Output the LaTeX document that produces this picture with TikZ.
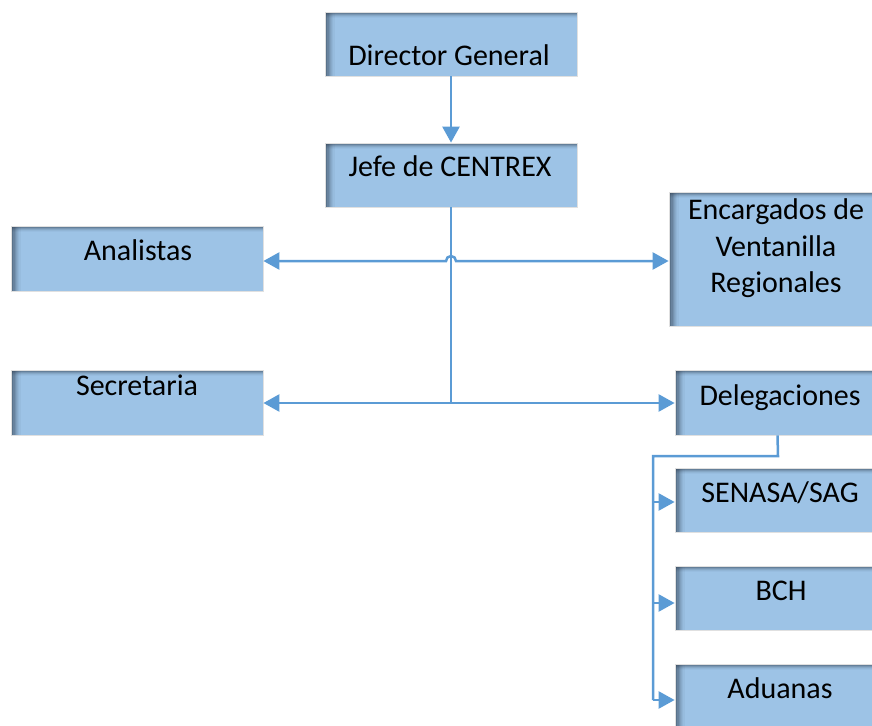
\documentclass[tikz,border=0pt]{standalone}
\usepackage{fontspec}
\setmainfont{Carlito}
\usetikzlibrary{arrows.meta}
\definecolor{boxblue}{RGB}{157,195,230}
\definecolor{linec}{RGB}{91,155,213}
\definecolor{shadowc}{RGB}{45,60,78}
\tikzset{
  mytip/.tip={Triangle[length=16pt,width=17pt]},
  box/.style={rectangle, fill=boxblue, draw=black!12, line width=0.8pt, inner sep=0pt,
    path picture={
      \foreach \i/\o in {0/0.75,1/0.6,2/0.47,3/0.36,4/0.26,5/0.18,6/0.11,7/0.05} {
        \fill[shadowc, opacity=\o]
          ([xshift=\i*1.2pt]path picture bounding box.north west) rectangle
          ([xshift=\i*1.2pt+1.2pt]path picture bounding box.south west);
      }
      \foreach \i/\o in {0/0.7,1/0.5,2/0.33,3/0.2,4/0.1,5/0.04} {
        \fill[shadowc, opacity=\o]
          ([yshift=-\i*1pt]path picture bounding box.north west) rectangle
          ([yshift=-\i*1pt-1pt]path picture bounding box.north east);
      }
    }},
  txt/.style={inner sep=0pt, anchor=base, font=\fontsize{30}{36}\selectfont},
  conn/.style={draw=linec, line width=2.5pt},
  arr/.style={conn, -mytip},
  arrboth/.style={conn, mytip-mytip}
}
\begin{document}
\begin{tikzpicture}[x=1pt,y=-1pt]
\useasboundingbox (0,0) rectangle (872,725);
\clip (0,0) rectangle (872,725);
% boxes
\node[box, minimum width=252pt, minimum height=64pt] (dg) at (451,44) {};
\node[box, minimum width=252pt, minimum height=64pt] (jefe) at (451,175) {};
\node[box, minimum width=252pt, minimum height=65pt] (anal) at (137,258.5) {};
\node[box, minimum width=252pt, minimum height=65pt] (sec) at (137,402.5) {};
\node[box, minimum width=211pt, minimum height=134pt] (enc) at (774.5,259) {};
\node[box, minimum width=205pt, minimum height=65pt] (del) at (777.5,402.5) {};
\node[box, minimum width=205pt, minimum height=64pt] (sen) at (777.5,500) {};
\node[box, minimum width=205pt, minimum height=64pt] (bch) at (777.5,598) {};
\node[box, minimum width=205pt, minimum height=64pt] (adu) at (777.5,696) {};
% texts
\node[txt] (tdg) at (449,65) {Director General};
\node[txt] (tjefe) at (450,176) {Jefe de CENTREX};
\node[txt] (tanal) at (138,260) {Analistas};
\node[txt] (tsec) at (137,395) {Secretaria};
\node[txt] (te1) at (776,219) {Encargados de};
\node[txt] (te2) at (776,256) {Ventanilla};
\node[txt] (te3) at (776,292) {Regionales};
\node[txt] (tdel) at (780,405) {Delegaciones};
\node[txt] (tsen) at (780,502) {SENASA/SAG};
\node[txt] (tbch) at (781,600) {BCH};
\node[txt] (tadu) at (780,698) {Aduanas};
% connectors
\coordinate (hop) at (451,261);
\coordinate (jtee) at (451,403);
\coordinate (dturn) at (778,456);
\coordinate (bus) at (653,456);
\coordinate (busend) at (653,700);
\draw[arr] (dg.south) -- (jefe.north);
\draw[conn] (jefe.south) -- (jtee);
\draw[arrboth] (anal.east |- hop) -- ([xshift=-5pt]hop) arc[start angle=180, end angle=0, radius=5pt] -- (enc.west |- hop);
\draw[arr] (jtee) -- (sec.east |- jtee);
\draw[arr] (jtee) -- (del.west |- jtee);
\draw[conn] (del.south) -- (dturn) -- (bus) -- (busend);
\draw[arr] (busend) -- (adu.west |- busend);
\draw[arr] (bus |- 0,502) -- (sen.west |- 0,502);
\draw[arr] (bus |- 0,603) -- (bch.west |- 0,603);
\end{tikzpicture}
\end{document}
